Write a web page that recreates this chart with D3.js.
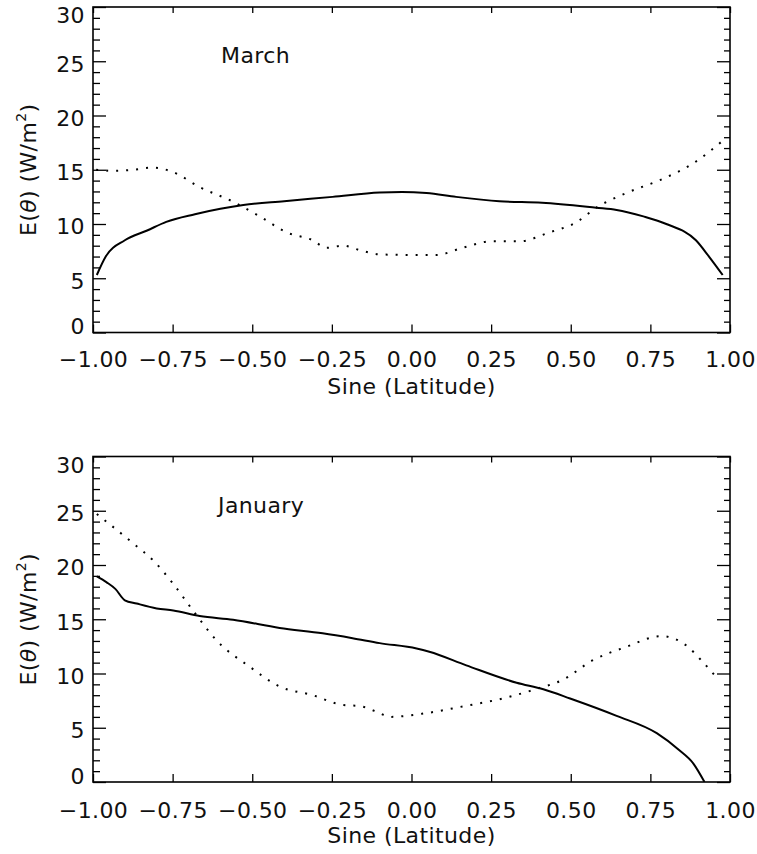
<!DOCTYPE html>
<html>
<head>
<meta charset="utf-8">
<script src="https://cdn.jsdelivr.net/npm/d3@7"></script>
<style>
  html, body { margin: 0; padding: 0; background: #fff; }
  svg text { font-family: "DejaVu Sans", sans-serif; fill: #111; }
</style>
</head>
<body>
<svg id="chart" width="757" height="854"></svg>
<script>
// ---- data ----
const xTicks = [-1, -0.75, -0.5, -0.25, 0, 0.25, 0.5, 0.75, 1];
const yTicks = [0, 5, 10, 15, 20, 25, 30];
const yMinorTicks = d3.range(0, 31, 1).filter(v => v % 5 !== 0);

const marchSolidLat = [-0.988, -0.96, -0.9, -0.83, -0.77, -0.68, -0.6, -0.528, -0.4, -0.248, -0.1, -0.03, 0.047, 0.14, 0.276, 0.41, 0.58, 0.644, 0.728, 0.8, 0.893, 0.934, 0.977];
const marchSolidE   = [5.3, 7.0, 8.5, 9.4, 10.2, 10.9, 11.4, 11.75, 12.1, 12.5, 12.9, 12.95, 12.85, 12.5, 12.1, 11.96, 11.5, 11.3, 10.7, 10.0, 8.5, 7.0, 5.3];

const marchDotLat = [-0.99, -0.93, -0.875, -0.81, -0.75, -0.665, -0.56, -0.476, -0.39, -0.31, -0.267, -0.215, -0.163, -0.1, -0.006, 0.078, 0.16, 0.25, 0.34, 0.43, 0.52, 0.58, 0.674, 0.78, 0.885, 0.978];
const marchDotE   = [15.0, 14.9, 15.0, 15.2, 14.8, 13.4, 12.05, 10.7, 9.2, 8.5, 7.8, 8.0, 7.6, 7.2, 7.15, 7.15, 7.8, 8.4, 8.4, 9.2, 10.2, 11.5, 12.85, 14.05, 15.6, 17.7];

const janSolidLat = [-0.988, -0.957, -0.93, -0.9, -0.863, -0.8, -0.748, -0.665, -0.56, -0.414, -0.279, -0.185, -0.1, 0.016, 0.056, 0.172, 0.33, 0.414, 0.498, 0.644, 0.77, 0.84, 0.885, 0.92];
const janSolidE   = [18.95, 18.4, 17.8, 16.75, 16.45, 16.0, 15.8, 15.3, 14.95, 14.2, 13.7, 13.25, 12.8, 12.3, 12.0, 10.75, 9.15, 8.55, 7.7, 6.1, 4.5, 2.95, 1.7, 0.0];

const janDotLat = [-0.988, -0.874, -0.81, -0.749, -0.686, -0.612, -0.507, -0.414, -0.31, -0.216, -0.163, -0.1, -0.069, 0.047, 0.15, 0.307, 0.4, 0.474, 0.568, 0.674, 0.784, 0.862, 0.915, 0.96];
const janDotE   = [24.7, 22.0, 20.4, 18.3, 15.8, 13.05, 10.6, 8.8, 8.0, 7.1, 7.0, 6.35, 6.0, 6.35, 6.9, 7.85, 8.65, 9.4, 11.2, 12.45, 13.45, 12.6, 11.05, 9.55];

const panelTitles = ["March", "January"];
const xTitle = "Sine (Latitude)";

// ---- layout ----
const svg = d3.select("#chart");
const left = 93, right = 730;
const panels = [
  { title: panelTitles[0], top: 7, bottom: 332.5, titleX: 221, titleY: 63,
    solid: d3.zip(marchSolidLat, marchSolidE), dot: d3.zip(marchDotLat, marchDotE),
    tickLabelPad: 19, xTitleY: 394 },
  { title: panelTitles[1], top: 456.5, bottom: 782, titleX: 218, titleY: 513,
    solid: d3.zip(janSolidLat, janSolidE), dot: d3.zip(janDotLat, janDotE),
    tickLabelPad: 20, xTitleY: 843 }
];

const fontSize = 22;
const ls = 0.4;

panels.forEach((p, i) => {
  const x = d3.scaleLinear().domain([-1, 1]).range([left, right]);
  const y = d3.scaleLinear().domain([0, 30]).range([p.bottom, p.top]);
  const g = svg.append("g");

  const clipId = "clip" + i;
  svg.append("clipPath").attr("id", clipId).append("rect")
    .attr("x", left).attr("y", p.top).attr("width", right - left).attr("height", p.bottom - p.top);

  // lines
  const line = d3.line().x(d => x(d[0])).y(d => y(d[1])).curve(d3.curveMonotoneX);
  g.append("path").datum(p.solid).attr("d", line)
    .attr("clip-path", `url(#${clipId})`)
    .attr("fill", "none").attr("stroke", "#000").attr("stroke-width", 2);
  g.append("path").datum(p.dot).attr("d", line)
    .attr("clip-path", `url(#${clipId})`)
    .attr("fill", "none").attr("stroke", "#000").attr("stroke-width", 2)
    .attr("stroke-dasharray", "2,8");

  // axes
  const styleAxis = sel => {
    sel.select(".domain").remove();
    sel.selectAll(".tick line").attr("stroke", "#000").attr("stroke-width", 1.3);
    sel.selectAll(".tick text").attr("font-size", fontSize).attr("font-family", "DejaVu Sans, sans-serif")
      .attr("letter-spacing", ls).attr("fill", "#111");
  };

  // left major with labels
  const gl = g.append("g").attr("transform", `translate(${left},0)`)
    .call(d3.axisLeft(y).tickValues(yTicks).tickSizeInner(-13).tickSizeOuter(0).tickPadding(8).tickFormat(d3.format("d")))
    .call(styleAxis);
  gl.selectAll(".tick text").attr("dy", d => d === 30 ? "0.72em" : d === 0 ? "0.05em" : "0.45em");
  // left minor
  g.append("g").attr("transform", `translate(${left},0)`)
    .call(d3.axisLeft(y).tickValues(yMinorTicks).tickSizeInner(-7).tickSizeOuter(0).tickFormat(""))
    .call(styleAxis);
  // right major and minor
  g.append("g").attr("transform", `translate(${right},0)`)
    .call(d3.axisRight(y).tickValues(yTicks).tickSizeInner(-13).tickSizeOuter(0).tickFormat(""))
    .call(styleAxis);
  g.append("g").attr("transform", `translate(${right},0)`)
    .call(d3.axisRight(y).tickValues(yMinorTicks).tickSizeInner(-6).tickSizeOuter(0).tickFormat(""))
    .call(styleAxis);
  // bottom with labels
  g.append("g").attr("transform", `translate(0,${p.bottom})`)
    .call(d3.axisBottom(x).tickValues(xTicks).tickSizeInner(-8).tickSizeOuter(0).tickPadding(p.tickLabelPad).tickFormat(d3.format(".2f")))
    .call(styleAxis);
  // top
  g.append("g").attr("transform", `translate(0,${p.top})`)
    .call(d3.axisTop(x).tickValues(xTicks).tickSizeInner(-6).tickSizeOuter(0).tickFormat(""))
    .call(styleAxis);

  // frame
  g.append("rect").attr("x", left).attr("y", p.top)
    .attr("width", right - left).attr("height", p.bottom - p.top)
    .attr("fill", "none").attr("stroke", "#000").attr("stroke-width", 1.6);

  // panel title
  g.append("text").attr("x", p.titleX).attr("y", p.titleY)
    .attr("font-size", fontSize).attr("letter-spacing", ls).text(p.title);

  // x axis title
  g.append("text").attr("x", (left + right) / 2).attr("y", p.xTitleY)
    .attr("text-anchor", "middle").attr("font-size", fontSize).attr("letter-spacing", ls).text(xTitle);

  // y axis title
  const yt = g.append("text")
    .attr("transform", `translate(36,${(p.top + p.bottom) / 2}) rotate(-90)`)
    .attr("text-anchor", "middle").attr("font-size", fontSize).attr("letter-spacing", ls);
  yt.append("tspan").text("E(");
  yt.append("tspan").attr("font-style", "italic").text("θ");
  yt.append("tspan").text(")  (W/m");
  yt.append("tspan").attr("font-size", 14).attr("dy", -10).text("2");
  yt.append("tspan").attr("dy", 10).text(")");
});
</script>
</body>
</html>
